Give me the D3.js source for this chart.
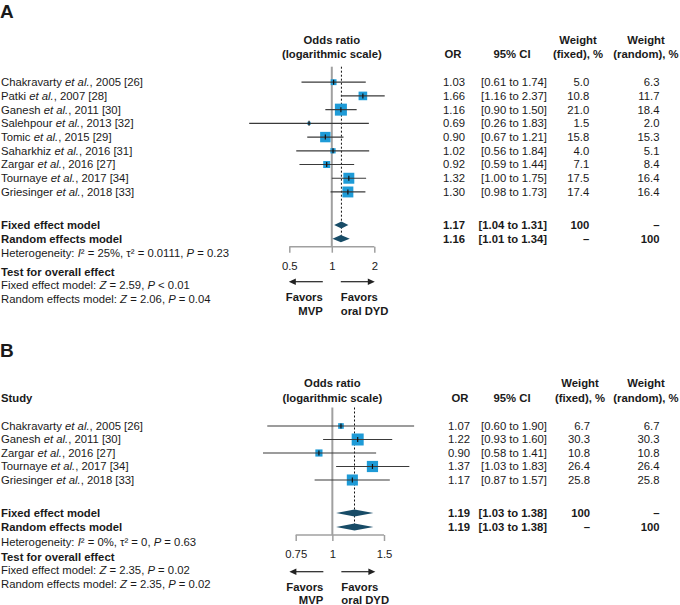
<!DOCTYPE html>
<html>
<head>
<meta charset="utf-8">
<script src="https://cdn.jsdelivr.net/npm/d3@7"></script>
<style>
  body { margin: 0; background: #fff; }
  svg text { font-family: "Liberation Sans", Arial, sans-serif; font-size: 11.3px; fill: #1a1a1a; }
</style>
</head>
<body>
<svg id="chart" width="680" height="605"></svg>
<script>
// ---------- Panel A data ----------
const authorsA = ["Chakravarty", "Patki", "Ganesh", "Salehpour", "Tomic", "Saharkhiz", "Zargar", "Tournaye", "Griesinger"];
const yearRefA = ["2005 [26]", "2007 [28]", "2011 [30]", "2013 [32]", "2015 [29]", "2016 [31]", "2016 [27]", "2017 [34]", "2018 [33]"];
const orA = [1.03, 1.66, 1.16, 0.69, 0.90, 1.02, 0.92, 1.32, 1.30];
const loA = [0.61, 1.16, 0.90, 0.26, 0.67, 0.56, 0.59, 1.00, 0.98];
const hiA = [1.74, 2.37, 1.50, 1.83, 1.21, 1.84, 1.44, 1.75, 1.73];
const wFixedA = ["5.0", "10.8", "21.0", "1.5", "15.8", "4.0", "7.1", "17.5", "17.4"];
const wRandomA = ["6.3", "11.7", "18.4", "2.0", "15.3", "5.1", "8.4", "16.4", "16.4"];
const summaryOrA = [1.17, 1.16];
const summaryLoA = [1.04, 1.01];
const summaryHiA = [1.31, 1.34];
const summaryWFixedA = ["100", "–"];
const summaryWRandomA = ["–", "100"];
const ticksA = [0.5, 1, 2];
const tickLabelsA = ["0.5", "1", "2"];
const heteroA = ["25%", "0.0111", "0.23"];
const testA = [["2.59", "< 0.01"], ["2.06", "= 0.04"]];

// ---------- Panel B data ----------
const authorsB = ["Chakravarty", "Ganesh", "Zargar", "Tournaye", "Griesinger"];
const yearRefB = ["2005 [26]", "2011 [30]", "2016 [27]", "2017 [34]", "2018 [33]"];
const orB = [1.07, 1.22, 0.90, 1.37, 1.17];
const loB = [0.60, 0.93, 0.58, 1.03, 0.87];
const hiB = [1.90, 1.60, 1.41, 1.83, 1.57];
const wFixedB = ["6.7", "30.3", "10.8", "26.4", "25.8"];
const wRandomB = ["6.7", "30.3", "10.8", "26.4", "25.8"];
const summaryOrB = [1.19, 1.19];
const summaryLoB = [1.03, 1.03];
const summaryHiB = [1.38, 1.38];
const summaryWFixedB = ["100", "–"];
const summaryWRandomB = ["–", "100"];
const ticksB = [0.75, 1, 1.5];
const tickLabelsB = ["0.75", "1", "1.5"];
const heteroB = ["0%", "0", "0.63"];
const testB = [["2.35", "= 0.02"], ["2.35", "= 0.02"]];

const modelLabels = ["Fixed effect model", "Random effects model"];

const svg = d3.select("#chart");
const BOX = "#1e9bd7", DIA = "#184c67", GRAY = "#a0a0a0", LINE = "#3a3a3a";

function drawPanel(cfg) {
  const g = svg.append("g");
  const x = d3.scaleLog().domain(cfg.domain).range(cfg.range);
  const fmt = d3.format(".2f");
  const n = cfg.or.length;
  const rowY = i => cfg.y0 + i * cfg.step;

  // panel letter
  g.append("text").attr("x", 0).attr("y", cfg.letterY)
    .style("font-size", "19px").style("font-weight", "bold").text(cfg.letter);

  if (cfg.studyHeader) {
    g.append("text").attr("x", 1).attr("y", cfg.hdr2).attr("dy", "0.35em")
      .style("font-weight", "bold").text("Study");
  }

  // headers
  const hdr = (t, xx, yy, anchor) => g.append("text").attr("x", xx).attr("y", yy).attr("dy", "0.35em")
    .attr("text-anchor", anchor || "middle").style("font-weight", "bold").text(t);
  hdr("Odds ratio", x(1), cfg.hdr1);
  hdr("(logarithmic scale)", x(1), cfg.hdr2);
  hdr("OR", cfg.orHdrX, cfg.hdr2);
  hdr("95% CI", cfg.ciHdrX, cfg.hdr2);
  hdr("Weight", cfg.wfHdrX, cfg.hdr1);
  hdr("(fixed), %", cfg.wfHdrX, cfg.hdr2);
  hdr("Weight", cfg.wrHdrX, cfg.hdr1);
  hdr("(random), %", cfg.wrHdrX, cfg.hdr2);

  // reference line at 1
  g.append("line").attr("x1", x(1)).attr("x2", x(1)).attr("y1", cfg.vTop).attr("y2", cfg.axisY)
    .attr("stroke", GRAY).attr("stroke-width", 2);
  // dotted line at pooled estimate
  g.append("line").attr("x1", x(cfg.sOr[0])).attr("x2", x(cfg.sOr[0]))
    .attr("y1", cfg.vTop).attr("y2", cfg.sumY[1] - 3)
    .attr("stroke", "#111").attr("stroke-width", 1).attr("stroke-dasharray", "2,2");

  // study rows
  const wNum = cfg.wf.map(Number);
  const wMax = d3.max(wNum);
  for (let i = 0; i < n; i++) {
    const y = rowY(i);
    const t = g.append("text").attr("x", 1).attr("y", y).attr("dy", "0.35em");
    t.append("tspan").text(cfg.authors[i] + " ");
    t.append("tspan").style("font-style", "italic").text("et al.");
    t.append("tspan").text(", " + cfg.years[i]);

    const s = cfg.maxBox * Math.sqrt(wNum[i] / wMax);
    g.append("rect").attr("x", x(cfg.or[i]) - s / 2).attr("y", y - s / 2)
      .attr("width", s).attr("height", s).attr("fill", BOX);
    g.append("line").attr("x1", x(cfg.lo[i])).attr("x2", x(cfg.hi[i])).attr("y1", y).attr("y2", y)
      .attr("stroke", LINE).attr("stroke-width", 1.2);
    g.append("line").attr("x1", x(cfg.or[i])).attr("x2", x(cfg.or[i])).attr("y1", y - 2.5).attr("y2", y + 2.5)
      .attr("stroke", "#111").attr("stroke-width", 1.2);

    g.append("text").attr("x", cfg.orX).attr("y", y).attr("dy", "0.35em").attr("text-anchor", "end").text(fmt(cfg.or[i]));
    g.append("text").attr("x", cfg.ciX).attr("y", y).attr("dy", "0.35em").attr("text-anchor", "end")
      .text("[" + fmt(cfg.lo[i]) + " to " + fmt(cfg.hi[i]) + "]");
    g.append("text").attr("x", cfg.wfX).attr("y", y).attr("dy", "0.35em").attr("text-anchor", "end").text(cfg.wf[i]);
    g.append("text").attr("x", cfg.wrX).attr("y", y).attr("dy", "0.35em").attr("text-anchor", "end").text(cfg.wr[i]);
  }

  // summary rows
  for (let j = 0; j < 2; j++) {
    const y = cfg.sumY[j];
    g.append("text").attr("x", 1).attr("y", y).attr("dy", "0.35em").style("font-weight", "bold").text(modelLabels[j]);
    const h = 3.6;
    const pts = [[x(cfg.sLo[j]), y], [x(cfg.sOr[j]), y - h], [x(cfg.sHi[j]), y], [x(cfg.sOr[j]), y + h]];
    g.append("path").attr("d", d3.line()(pts) + "Z").attr("fill", DIA);
    const b = (t, xx) => g.append("text").attr("x", xx).attr("y", y).attr("dy", "0.35em")
      .attr("text-anchor", "end").style("font-weight", "bold").text(t);
    b(fmt(cfg.sOr[j]), cfg.orX);
    b("[" + fmt(cfg.sLo[j]) + " to " + fmt(cfg.sHi[j]) + "]", cfg.ciX);
    b(cfg.swf[j], cfg.wfX);
    b(cfg.swr[j], cfg.wrX);
  }

  // heterogeneity
  const ht = g.append("text").attr("x", 1).attr("y", cfg.heteroY).attr("dy", "0.35em");
  ht.append("tspan").text("Heterogeneity: ");
  ht.append("tspan").style("font-style", "italic").text("I");
  ht.append("tspan").text("² = " + cfg.hetero[0] + ", τ² = " + cfg.hetero[1] + ", ");
  ht.append("tspan").style("font-style", "italic").text("P");
  ht.append("tspan").text(" = " + cfg.hetero[2]);

  g.append("text").attr("x", 1).attr("y", cfg.testY).attr("dy", "0.35em").style("font-weight", "bold").text("Test for overall effect");
  for (let j = 0; j < 2; j++) {
    const tt = g.append("text").attr("x", 1).attr("y", cfg.testY + (j + 1) * cfg.testStep).attr("dy", "0.35em");
    tt.append("tspan").text(modelLabels[j] + ": ");
    tt.append("tspan").style("font-style", "italic").text("Z");
    tt.append("tspan").text(" = " + cfg.test[j][0] + ", ");
    tt.append("tspan").style("font-style", "italic").text("P");
    tt.append("tspan").text(" " + cfg.test[j][1]);
  }

  // axis
  const axis = d3.axisBottom(x).tickValues(cfg.ticks).tickSize(6).tickFormat((d, i) => cfg.tickLabels[i]);
  const ag = g.append("g").attr("transform", `translate(0,${cfg.axisY})`).call(axis);
  ag.select(".domain").attr("stroke", GRAY).attr("stroke-width", 1.5).attr("d", `M${x(cfg.ticks[0])},0H${x(cfg.ticks[2])}`);
  ag.selectAll(".tick line").attr("stroke", GRAY).attr("stroke-width", 1.5);
  ag.selectAll(".tick text").attr("y", cfg.tickLabY - cfg.axisY).attr("dy", "0.35em")
    .style("font-family", '"Liberation Sans", Arial, sans-serif').style("font-size", "11.3px").attr("fill", "#1a1a1a");

  // arrows
  const ay = cfg.arrowY;
  const x1 = x(1);
  g.append("line").attr("x1", x1 - 9).attr("x2", x1 - 37).attr("y1", ay).attr("y2", ay).attr("stroke", "#222").attr("stroke-width", 1.2);
  g.append("path").attr("d", `M${x1 - 43},${ay}L${x1 - 36},${ay - 3.2}L${x1 - 36},${ay + 3.2}Z`).attr("fill", "#222");
  g.append("line").attr("x1", x1 + 9).attr("x2", x1 + 37).attr("y1", ay).attr("y2", ay).attr("stroke", "#222").attr("stroke-width", 1.2);
  g.append("path").attr("d", `M${x1 + 43},${ay}L${x1 + 36},${ay - 3.2}L${x1 + 36},${ay + 3.2}Z`).attr("fill", "#222");

  const fav = (t, xx, yy, anchor) => g.append("text").attr("x", xx).attr("y", yy).attr("dy", "0.35em")
    .attr("text-anchor", anchor).style("font-weight", "bold").text(t);
  fav("Favors", x1 - 9, cfg.favY, "end");
  fav("MVP", x1 - 9, cfg.favY + cfg.favStep, "end");
  fav("Favors", x1 + 9, cfg.favY, "start");
  fav("oral DYD", x1 + 9, cfg.favY + cfg.favStep, "start");
}

drawPanel({
  letter: "A", letterY: 17.5, studyHeader: false,
  domain: [0.5, 2], range: [289.3, 374.3],
  authors: authorsA, years: yearRefA, or: orA, lo: loA, hi: hiA, wf: wFixedA, wr: wRandomA,
  sOr: summaryOrA, sLo: summaryLoA, sHi: summaryHiA, swf: summaryWFixedA, swr: summaryWRandomA,
  ticks: ticksA, tickLabels: tickLabelsA, hetero: heteroA, test: testA,
  y0: 82.2, step: 13.72, sumY: [225, 238.7], heteroY: 252.7, testY: 271.7, testStep: 13.8,
  hdr1: 40, hdr2: 54, vTop: 66.7, axisY: 246.7, tickLabY: 266, arrowY: 281.7, favY: 296.7, favStep: 14,
  orHdrX: 453, ciHdrX: 512, wfHdrX: 578, wrHdrX: 646,
  orX: 465, ciX: 547, wfX: 589.3, wrX: 659.5, maxBox: 12
});

drawPanel({
  letter: "B", letterY: 357, studyHeader: true,
  domain: [0.75, 1.5], range: [295.7, 384],
  authors: authorsB, years: yearRefB, or: orB, lo: loB, hi: hiB, wf: wFixedB, wr: wRandomB,
  sOr: summaryOrB, sLo: summaryLoB, sHi: summaryHiB, swf: summaryWFixedB, swr: summaryWRandomB,
  ticks: ticksB, tickLabels: tickLabelsB, hetero: heteroB, test: testB,
  y0: 426, step: 13.5, sumY: [513, 527], heteroY: 541.7, testY: 556.7, testStep: 13.7,
  hdr1: 383.3, hdr2: 397.7, vTop: 407.5, axisY: 535, tickLabY: 554, arrowY: 571.7, favY: 587.2, favStep: 13.2,
  orHdrX: 460, ciHdrX: 512, wfHdrX: 580, wrHdrX: 646,
  orX: 470, ciX: 547, wfX: 590, wrX: 659.5, maxBox: 12
});
</script>
</body>
</html>
